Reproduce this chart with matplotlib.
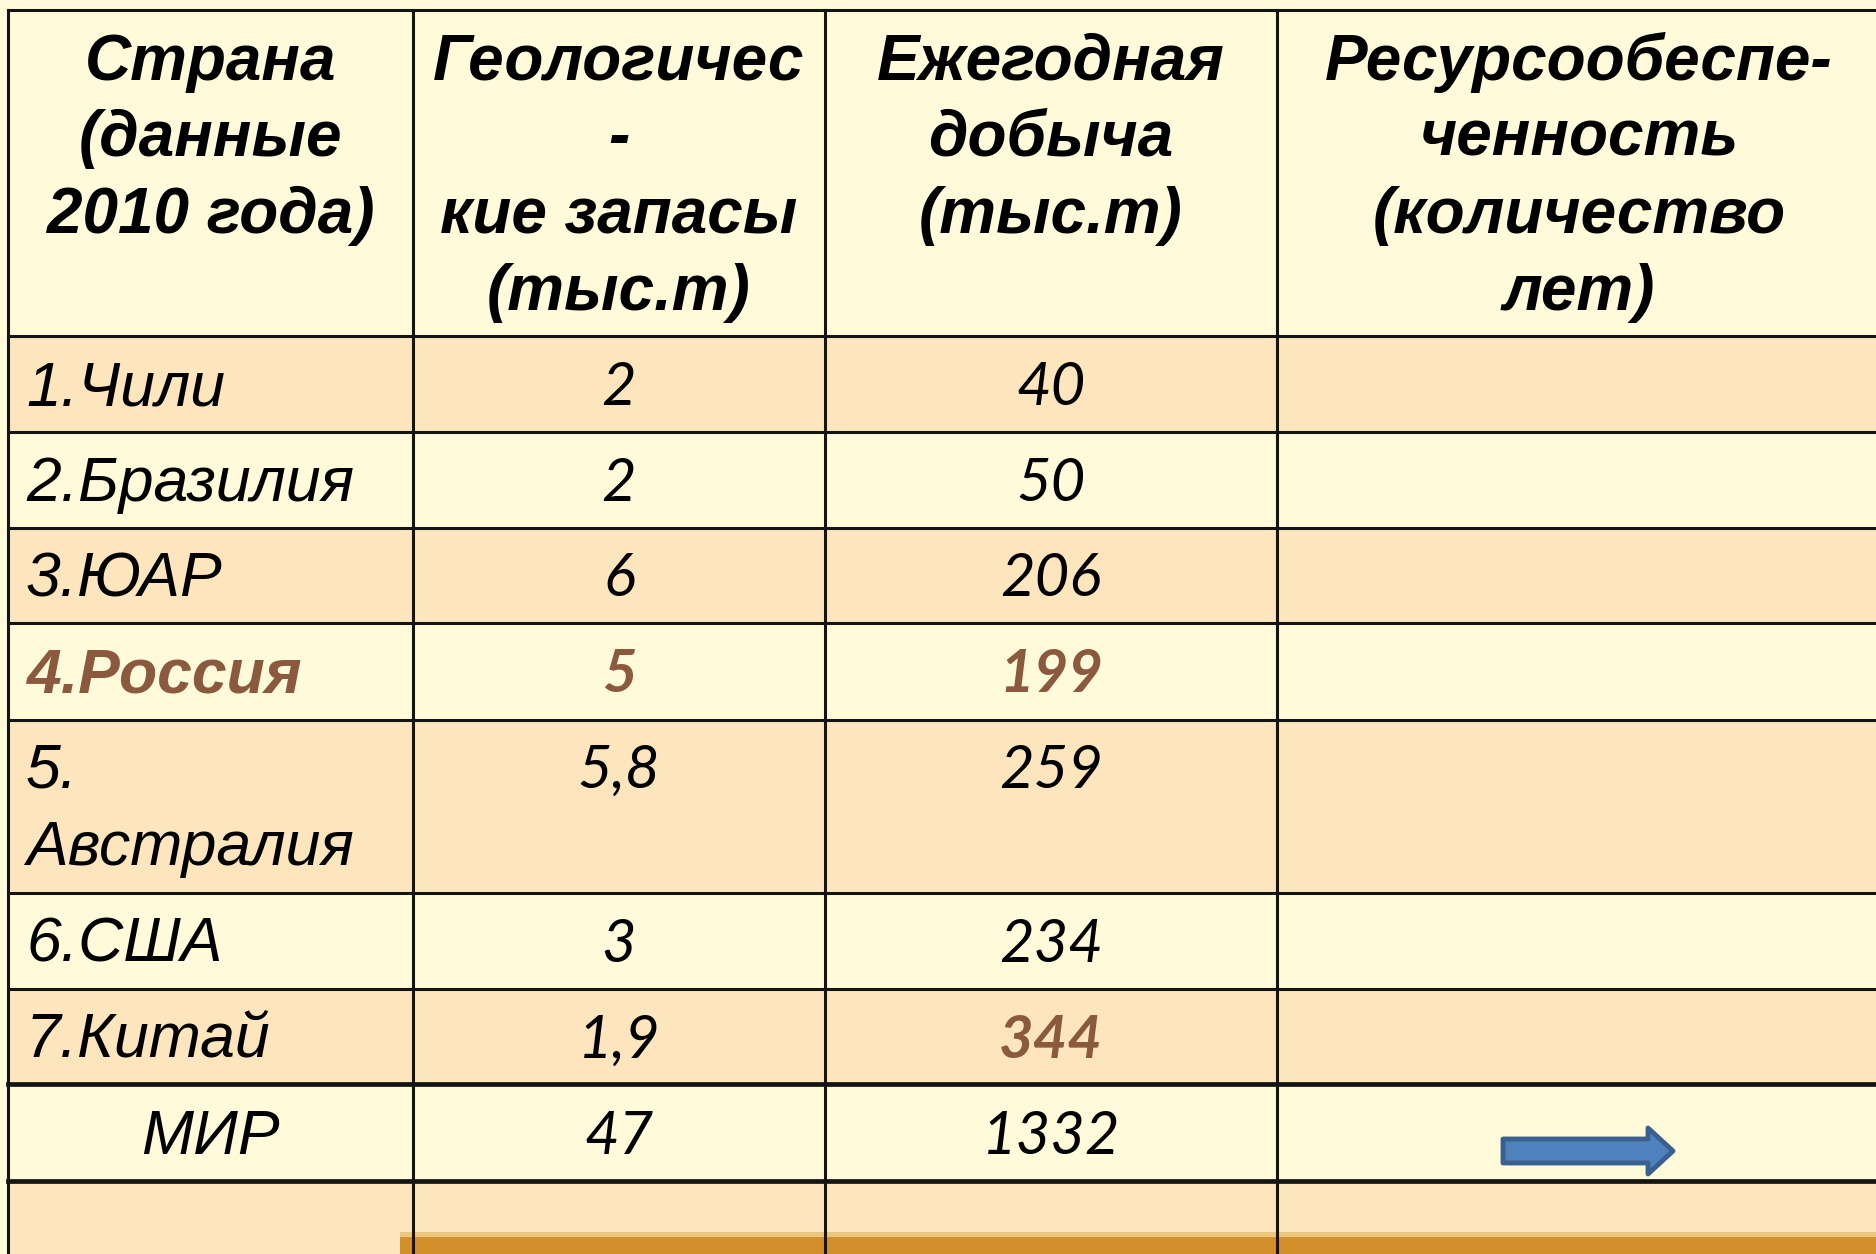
import matplotlib
matplotlib.use("Agg")
import matplotlib.pyplot as plt
from matplotlib.patches import Rectangle, Polygon

# данные таблицы
headers = [
    ["Страна", "(данные", "2010 года)"],
    ["Геологичес", "-", "кие запасы", "(тыс.т)"],
    ["Ежегодная", "добыча", "(тыс.т)"],
    ["Ресурсообеспе-", "ченность", "(количество", "лет)"],
]
countries = ["1.Чили", "2.Бразилия", "3.ЮАР", "4.Россия", "5.\nАвстралия",
             "6.США", "7.Китай"]
reserves = ["2", "2", "6", "5", "5,8", "3", "1,9"]
production = ["40", "50", "206", "199", "259", "234", "344"]
world = ["МИР", "47", "1332"]
highlight_row = [False, False, False, True, False, False, False]
highlight_prod = [False, False, False, True, False, False, True]

# разметка (пиксели)
W, H = 1876, 1254
col_x = [8, 413, 825, 1277, 1890]
row_y = [10, 336, 432, 528, 623, 720, 893, 989, 1084, 1181, 1300]

c_light = "#FFFBDA"
c_orange = "#FDE6BD"
c_brown = "#8B5A3E"
c_line = "#141414"

head_font = dict(family="Liberation Sans", weight="bold", style="italic", size=46)
name_font = dict(family="Liberation Sans", style="italic", size=45)
num_font = dict(family="Lato", style="italic", size=43)

fig = plt.figure(figsize=(W / 100, H / 100), dpi=100)
fig.patch.set_facecolor(c_light)
ax = fig.add_axes([0, 0, 1, 1])
ax.set_xlim(0, W)
ax.set_ylim(H, 0)
ax.axis("off")

# фон строк
for i in range(len(row_y) - 1):
    col = c_light if i % 2 == 0 else c_orange
    ax.add_patch(Rectangle((col_x[0], row_y[i]), W - col_x[0], row_y[i + 1] - row_y[i],
                           facecolor=col, edgecolor="none", zorder=0))

# оранжевая полоса внизу
ax.add_patch(Rectangle((400, 1232), W - 400, 6, facecolor="#EAC77E", edgecolor="none", zorder=1))
ax.add_patch(Rectangle((400, 1237), W - 400, 20, facecolor="#D38F29", edgecolor="none", zorder=1))

# линии
for x in col_x[:-1]:
    ax.plot([x, x], [row_y[0], H + 5], color=c_line, lw=2.2, zorder=3)
for j, y in enumerate(row_y[:-1]):
    lw = 3.4 if y in (1084, 1181) else 2.2
    ax.plot([col_x[0], W + 5], [y, y], color=c_line, lw=lw, zorder=3)

# заголовки
head_base = [80, 156, 233, 310]
for k, lines in enumerate(headers):
    cx = (col_x[k] + col_x[k + 1]) / 2 if k < 3 else 1579
    for n, line in enumerate(lines):
        ax.text(cx, head_base[n], line, ha="center", va="baseline", zorder=4, **head_font)

# строки стран
for i in range(len(countries)):
    top, bot = row_y[i + 1], row_y[i + 2]
    cy = (top + bot) / 2
    color = c_brown if highlight_row[i] else "black"
    weight = "bold" if highlight_row[i] else "normal"
    parts = countries[i].split("\n")
    if len(parts) == 1:
        ax.text(26, cy + 21, parts[0], ha="left", va="baseline", color=color,
                weight=weight, zorder=4, **name_font)
        base = cy + 21
    else:
        ax.text(26, top + 68, parts[0], ha="left", va="baseline", zorder=4, **name_font)
        ax.text(26, top + 145, parts[1], ha="left", va="baseline", zorder=4, **name_font)
        base = top + 68
    ax.text((col_x[1] + col_x[2]) / 2, base, reserves[i], ha="center", va="baseline",
            color=color, weight=weight, zorder=4, **num_font)
    pc = c_brown if highlight_prod[i] else "black"
    pw = "bold" if highlight_prod[i] else "normal"
    ax.text((col_x[2] + col_x[3]) / 2, base, production[i], ha="center", va="baseline",
            color=pc, weight=pw, zorder=4, **num_font)

# строка МИР
wy = (row_y[8] + row_y[9]) / 2 + 21
ax.text((col_x[0] + col_x[1]) / 2, wy, world[0], ha="center", va="baseline", zorder=4, **name_font)
ax.text((col_x[1] + col_x[2]) / 2, wy, world[1], ha="center", va="baseline", zorder=4, **num_font)
ax.text((col_x[2] + col_x[3]) / 2, wy, world[2], ha="center", va="baseline", zorder=4, **num_font)

# стрелка
arrow = Polygon([(1503, 1139), (1648, 1139), (1648, 1128), (1673, 1151),
                 (1648, 1174), (1648, 1163), (1503, 1163)], closed=True,
                facecolor="#4F81BD", edgecolor="#3A6090", lw=3.5, joinstyle="round", zorder=5)
ax.add_patch(arrow)

fig.savefig("out.png", dpi=100, facecolor=fig.get_facecolor())
